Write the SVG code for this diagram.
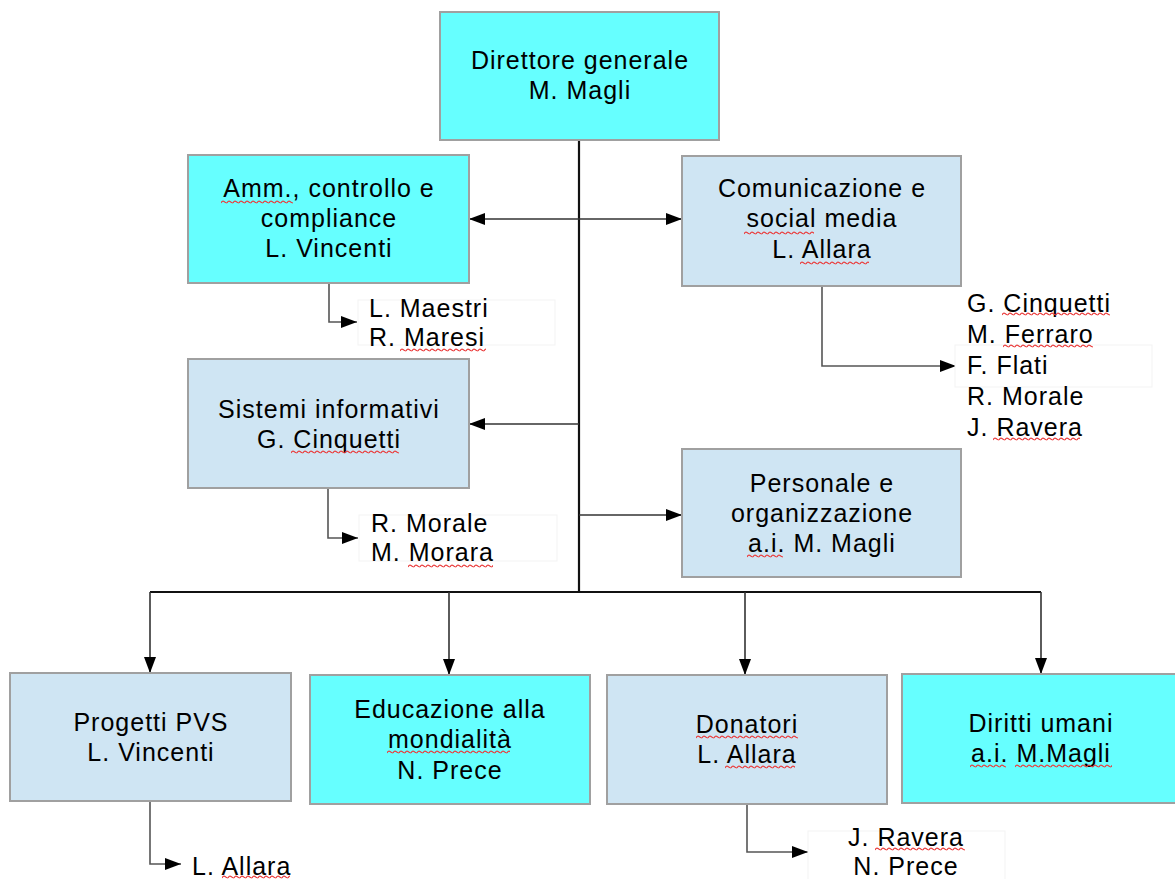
<svg xmlns="http://www.w3.org/2000/svg" width="1175" height="879" viewBox="0 0 1175 879">
<style>
.box{stroke:#a0a0a0;stroke-width:2}
.cy{fill:#66ffff}
.lb{fill:#cfe5f3}
.t{font-family:"Liberation Sans",Arial,sans-serif;font-size:25px;letter-spacing:1px;fill:#000;text-anchor:middle}
.l{font-family:"Liberation Sans",Arial,sans-serif;font-size:25px;letter-spacing:1px;fill:#000}
.frame{fill:#fff;stroke:#f3f3f3;stroke-width:1}
.c{fill:none;stroke:#333;stroke-width:1.6}
.trunk{fill:none;stroke:#111;stroke-width:2.2}
.sub{fill:none;stroke:#555;stroke-width:1.6}
.sq{fill:url(#wave)}
</style>
<defs>
<marker id="ah" markerWidth="16" markerHeight="12" refX="16" refY="6" orient="auto" markerUnits="userSpaceOnUse">
<path d="M0,0 L16,6 L0,12 z" fill="#000"/>
</marker>
<pattern id="wave" width="6" height="4" patternUnits="userSpaceOnUse">
<path d="M0,3 Q1.5,0.2 3,1.5 T6,3" fill="none" stroke="#ea3c3c" stroke-width="1.2"/>
</pattern>
</defs>
<rect width="1175" height="879" fill="#fff"/>

<g id="connectors">
<path class="trunk" d="M579,140 V592"/>
<path class="c" d="M579,219 H469" marker-end="url(#ah)"/>
<path class="c" d="M579,219 H682" marker-end="url(#ah)"/>
<path class="c" d="M579,424 H469" marker-end="url(#ah)"/>
<path class="c" d="M579,515 H682" marker-end="url(#ah)"/>
<path class="trunk" d="M150,592 H1041"/>
<path class="c" d="M150,592 V673" marker-end="url(#ah)"/>
<path class="c" d="M449,592 V675" marker-end="url(#ah)"/>
<path class="c" d="M745,592 V675" marker-end="url(#ah)"/>
<path class="c" d="M1041,592 V674" marker-end="url(#ah)"/>
<path class="sub" d="M329,283 V322 H357" marker-end="url(#ah)"/>
<path class="sub" d="M328,488 V538 H358" marker-end="url(#ah)"/>
<path class="sub" d="M822,286 V366 H956" marker-end="url(#ah)"/>
<path class="sub" d="M150,801 V864 H181" marker-end="url(#ah)"/>
<path class="sub" d="M747,804 V852 H808" marker-end="url(#ah)"/>
</g>

<g id="direttore">
<rect class="box cy" x="440" y="12" width="279" height="128"/>
<text class="t" x="580" y="69">Direttore generale</text>
<text class="t" x="580" y="99">M. Magli</text>
</g>

<g id="amm">
<rect class="box cy" x="188" y="155" width="281" height="128"/>
<text class="t" x="329" y="197">Amm., controllo e</text>
<text class="t" x="329" y="227">compliance</text>
<text class="t" x="329" y="257">L. Vincenti</text>
<rect class="sq" width="72" height="4" transform="translate(221,200)"/>
</g>

<g id="amm-staff">
<rect class="frame" x="358" y="300" width="197" height="45"/>
<text class="l" x="369" y="317">L. Maestri</text>
<text class="l" x="369" y="346">R. Maresi</text>
<rect class="sq" width="86" height="4" transform="translate(400,348)"/>
</g>

<g id="comunicazione">
<rect class="box lb" x="682" y="156" width="279" height="130"/>
<text class="t" x="822" y="197">Comunicazione e</text>
<text class="t" x="822" y="227">social media</text>
<text class="t" x="822" y="258">L. Allara</text>
<rect class="sq" width="70" height="4" transform="translate(744,231)"/>
<rect class="sq" width="69" height="4" transform="translate(800,261)"/>
</g>

<g id="comunicazione-staff">
<rect class="frame" x="955" y="345" width="197" height="42"/>
<text class="l" x="967" y="312">G. Cinquetti</text>
<text class="l" x="967" y="343">M. Ferraro</text>
<text class="l" x="967" y="374">F. Flati</text>
<text class="l" x="967" y="405">R. Morale</text>
<text class="l" x="967" y="436">J. Ravera</text>
<rect class="sq" width="108" height="4" transform="translate(1002,312)"/>
<rect class="sq" width="90" height="4" transform="translate(1003,344)"/>
<rect class="sq" width="87" height="4" transform="translate(993,437)"/>
</g>

<g id="sistemi">
<rect class="box lb" x="188" y="359" width="281" height="129"/>
<text class="t" x="329" y="418">Sistemi informativi</text>
<text class="t" x="329" y="448">G. Cinquetti</text>
<rect class="sq" width="108" height="4" transform="translate(291,450)"/>
</g>

<g id="sistemi-staff">
<rect class="frame" x="359" y="515" width="198" height="46"/>
<text class="l" x="371" y="532">R. Morale</text>
<text class="l" x="371" y="561">M. Morara</text>
<rect class="sq" width="85" height="4" transform="translate(408,564)"/>
</g>

<g id="personale">
<rect class="box lb" x="682" y="449" width="279" height="128"/>
<text class="t" x="822" y="492">Personale e</text>
<text class="t" x="822" y="522">organizzazione</text>
<text class="t" x="822" y="552">a.i. M. Magli</text>
<rect class="sq" width="36" height="4" transform="translate(747,554)"/>
</g>

<g id="progetti">
<rect class="box lb" x="10" y="673" width="281" height="128"/>
<text class="t" x="151" y="731">Progetti PVS</text>
<text class="t" x="151" y="761">L. Vincenti</text>
</g>

<g id="progetti-staff">
<text class="l" x="192" y="875">L. Allara</text>
<rect class="sq" width="68" height="4" transform="translate(222,875)"/>
</g>

<g id="educazione">
<rect class="box cy" x="310" y="675" width="280" height="129"/>
<text class="t" x="450" y="718">Educazione alla</text>
<text class="t" x="450" y="748">mondialità</text>
<text class="t" x="450" y="779">N. Prece</text>
<rect class="sq" width="123" height="4" transform="translate(387,750)"/>
</g>

<g id="donatori">
<rect class="box lb" x="607" y="675" width="280" height="129"/>
<text class="t" x="747" y="733">Donatori</text>
<text class="t" x="747" y="763">L. Allara</text>
<rect class="sq" width="102" height="4" transform="translate(696,735)"/>
<rect class="sq" width="70" height="4" transform="translate(725,765)"/>
</g>

<g id="donatori-staff">
<rect class="frame" x="808" y="831" width="197" height="50"/>
<text class="t" x="906" y="846">J. Ravera</text>
<text class="t" x="906" y="875">N. Prece</text>
<rect class="sq" width="90" height="4" transform="translate(875,847)"/>
</g>

<g id="diritti">
<rect class="box cy" x="902" y="674" width="280" height="129"/>
<text class="t" x="1041" y="732">Diritti umani</text>
<text class="t" x="1041" y="762">a.i. M.Magli</text>
<rect class="sq" width="36" height="4" transform="translate(970,764)"/>
<rect class="sq" width="97" height="4" transform="translate(1015,764)"/>
</g>
</svg>
